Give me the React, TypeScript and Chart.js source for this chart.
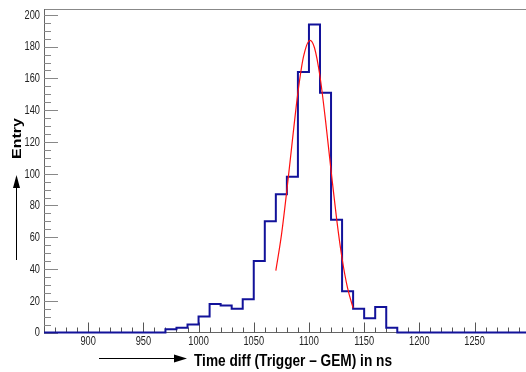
import React, { useEffect, useRef } from "react";
import { Chart, registerables } from "chart.js";

Chart.register(...registerables);

// ---- data ----
const BIN_START = 860;
const BIN_WIDTH = 10;
const counts = [
  0, 0, 0, 0, 0, 0, 0, 0, 0, 0, 0,
  2, 3, 5, 10, 18, 17, 15, 21, 45, 70, 87, 98, 164, 194, 151, 71, 26, 15, 9, 16, 3,
  0, 0, 0, 0, 0, 0, 0, 0, 0, 0, 0, 0,
];
const fitX = [1070, 1075, 1080, 1085, 1090, 1095, 1101, 1105, 1110, 1115, 1120, 1125, 1130, 1135, 1140];
const fitY = [39, 61, 89.6, 121, 151, 173.5, 184, 179.3, 161.2, 133.6, 102.1, 71.9, 46.6, 27.9, 15.4];
const xTickLabels = [900, 950, 1000, 1050, 1100, 1150, 1200, 1250];
const yTickLabels = [0, 20, 40, 60, 80, 100, 120, 140, 160, 180, 200];
const X_MIN = 860;
const X_MAX = 1296.6;
const Y_MAX = 203.7;
const X_MINOR_STEP = 10;
const Y_MINOR_STEP = 5;
const X_TITLE = "Time diff (Trigger \u2013 GEM) in ns";
const Y_TITLE = "Entry";

function scaledText(ctx: CanvasRenderingContext2D, text: string, x: number, y: number, sx: number, align: CanvasTextAlign, baseline: CanvasTextBaseline) {
  ctx.save();
  ctx.translate(x, y);
  ctx.scale(sx, 1);
  ctx.textAlign = align;
  ctx.textBaseline = baseline;
  ctx.fillText(text, 0, 0);
  ctx.restore();
}

const rootAxes = {
  id: "rootAxes",
  beforeDatasetsDraw(chart: any) {
    const { ctx, chartArea: a, scales } = chart;
    const x = scales.x;
    const y = scales.y;
    ctx.save();
    ctx.lineWidth = 1;
    // frame top
    ctx.strokeStyle = "#888";
    ctx.beginPath();
    ctx.moveTo(a.left, a.top + 0.5);
    ctx.lineTo(a.right, a.top + 0.5);
    ctx.stroke();
    // left axis
    ctx.strokeStyle = "#666";
    ctx.beginPath();
    ctx.moveTo(a.left + 0.5, a.top);
    ctx.lineTo(a.left + 0.5, a.bottom);
    ctx.stroke();
    // bottom axis
    ctx.beginPath();
    ctx.moveTo(a.left, a.bottom);
    ctx.lineTo(a.right, a.bottom);
    ctx.stroke();
    // y ticks (inside)
    ctx.strokeStyle = "#888";
    for (let v = 0; v <= Y_MAX; v += Y_MINOR_STEP) {
      const py = Math.round(y.getPixelForValue(v)) + 0.5;
      const major = yTickLabels.includes(v);
      const len = major ? 14 : 7;
      ctx.beginPath();
      ctx.moveTo(a.left, py);
      ctx.lineTo(a.left + len, py);
      ctx.stroke();
    }
    // x ticks (inside)
    ctx.strokeStyle = "#555";
    for (let v = X_MIN; v <= X_MAX; v += X_MINOR_STEP) {
      const px = Math.round(x.getPixelForValue(v)) + 0.5;
      const major = xTickLabels.includes(v);
      const len = major ? 10 : 5;
      ctx.beginPath();
      ctx.moveTo(px, a.bottom);
      ctx.lineTo(px, a.bottom - len);
      ctx.stroke();
    }
    ctx.restore();
  },
  afterDraw(chart: any) {
    const { ctx, chartArea: a, scales } = chart;
    const x = scales.x;
    const y = scales.y;
    ctx.save();
    ctx.fillStyle = "#222";
    ctx.font = '12px "Liberation Sans", Arial, sans-serif';
    for (const v of yTickLabels) {
      scaledText(ctx, String(v), a.left - 4, y.getPixelForValue(v) + 0.5, 0.77, "right", "middle");
    }
    for (const v of xTickLabels) {
      scaledText(ctx, String(v), x.getPixelForValue(v), a.bottom + 9, 0.77, "center", "middle");
    }
    // titles
    ctx.fillStyle = "#000";
    ctx.font = 'bold 16px "Liberation Sans", Arial, sans-serif';
    const natural = ctx.measureText(X_TITLE).width;
    scaledText(ctx, X_TITLE, 194, 365.5, 198 / natural, "left", "alphabetic");

    ctx.save();
    ctx.translate(21, 138.5);
    ctx.scale(0.85, 1);
    ctx.rotate(-Math.PI / 2);
    ctx.textAlign = "center";
    ctx.textBaseline = "alphabetic";
    ctx.fillText(Y_TITLE, 0, 0);
    ctx.restore();

    // arrows
    ctx.strokeStyle = "#000";
    ctx.fillStyle = "#000";
    ctx.lineWidth = 1;
    ctx.beginPath();
    ctx.moveTo(99, 358.5);
    ctx.lineTo(176, 358.5);
    ctx.stroke();
    ctx.beginPath();
    ctx.moveTo(187, 358.5);
    ctx.lineTo(174, 354.5);
    ctx.lineTo(174, 362.5);
    ctx.closePath();
    ctx.fill();

    ctx.beginPath();
    ctx.moveTo(16.5, 260);
    ctx.lineTo(16.5, 185);
    ctx.stroke();
    ctx.beginPath();
    ctx.moveTo(16.5, 175);
    ctx.lineTo(13, 188);
    ctx.lineTo(20, 188);
    ctx.closePath();
    ctx.fill();
    ctx.restore();
  },
};

export default function App() {
  const ref = useRef<HTMLCanvasElement | null>(null);
  useEffect(() => {
    if (!ref.current) return;
    const histData = counts.map((c, i) => ({ x: BIN_START + i * BIN_WIDTH, y: c }));
    histData.push({ x: BIN_START + counts.length * BIN_WIDTH, y: counts[counts.length - 1] });
    const fitData = fitX.map((xv, i) => ({ x: xv, y: fitY[i] }));
    const chart = new Chart(ref.current, {
      type: "line",
      data: {
        datasets: [
          {
            data: fitData,
            borderColor: "#ff1010",
            borderWidth: 1.2,
            pointRadius: 0,
            cubicInterpolationMode: "monotone",
            fill: false,
            order: 0,
          } as any,
          {
            data: histData,
            borderColor: "#12129a",
            borderWidth: 2,
            pointRadius: 0,
            stepped: true,
            fill: false,
            clip: false,
            order: 1,
          } as any,
        ],
      },
      plugins: [rootAxes],
      options: {
        animation: false,
        responsive: false,
        devicePixelRatio: 1,
        layout: { padding: { left: 44, top: 9, right: 0, bottom: 39.5 } },
        plugins: { legend: { display: false }, tooltip: { enabled: false }, title: { display: false } },
        scales: {
          x: { type: "linear", min: X_MIN, max: X_MAX, display: false },
          y: { type: "linear", min: 0, max: Y_MAX, display: false },
        },
      },
    });
    return () => chart.destroy();
  }, []);
  return (
    <div style={{ position: "fixed", left: 0, top: 0, width: 526, height: 372, background: "#fff" }}>
      <canvas ref={ref} width={526} height={372} />
    </div>
  );
}
